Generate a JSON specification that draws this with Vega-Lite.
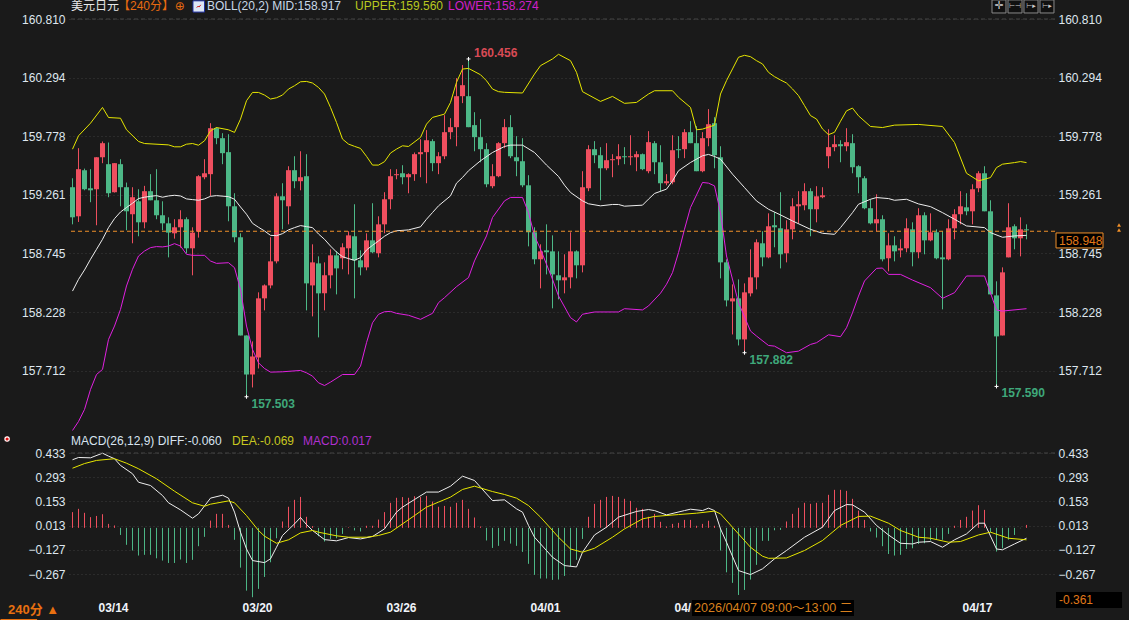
{
  "$schema": "https://vega.github.io/schema/vega-lite/v6.json",
  "background": "#1a1a1a",
  "padding": {"left": -1, "top": -1, "right": 8, "bottom": 1},
  "spacing": 0,
  "data": {"values": [{}]},
  "config": {
    "view": {"stroke": null},
    "font": "Liberation Sans",
    "text": {"font": "Liberation Sans, Noto Sans CJK SC", "fontSize": 12, "align": "left", "baseline": "middle"},
    "axis": {"title": null, "domain": false, "ticks": false, "labelFontSize": 12, "labelColor": "#dfe7ef", "gridColor": "#3c3c3c", "gridDash": [1, 3], "gridWidth": 1}
  },
  "datasets": {
    "candles": [
      {"i":0,"o":159.328,"h":159.407,"l":159.001,"c":159.063},
      {"i":1,"o":159.072,"h":159.672,"l":159.022,"c":159.487},
      {"i":2,"o":159.478,"h":159.492,"l":159.301,"c":159.310},
      {"i":3,"o":159.319,"h":159.487,"l":159.196,"c":159.301},
      {"i":4,"o":159.310,"h":159.592,"l":158.993,"c":159.592},
      {"i":5,"o":159.592,"h":159.731,"l":159.540,"c":159.716},
      {"i":6,"o":159.531,"h":159.722,"l":159.240,"c":159.275},
      {"i":7,"o":159.284,"h":159.540,"l":159.281,"c":159.540},
      {"i":8,"o":159.531,"h":159.575,"l":159.160,"c":159.328},
      {"i":9,"o":159.328,"h":159.369,"l":158.949,"c":159.116},
      {"i":10,"o":159.090,"h":159.328,"l":158.834,"c":159.240},
      {"i":11,"o":159.204,"h":159.310,"l":158.896,"c":159.019},
      {"i":12,"o":159.019,"h":159.340,"l":158.966,"c":159.293},
      {"i":13,"o":159.293,"h":159.443,"l":159.213,"c":159.213},
      {"i":14,"o":159.213,"h":159.487,"l":159.046,"c":159.081},
      {"i":15,"o":159.081,"h":159.204,"l":158.949,"c":159.010},
      {"i":16,"o":159.010,"h":159.063,"l":158.710,"c":158.928},
      {"i":17,"o":158.922,"h":159.046,"l":158.875,"c":158.975},
      {"i":18,"o":158.975,"h":159.125,"l":158.796,"c":159.046},
      {"i":19,"o":159.046,"h":159.063,"l":158.746,"c":158.790},
      {"i":20,"o":158.790,"h":158.975,"l":158.552,"c":158.928},
      {"i":21,"o":158.937,"h":159.434,"l":158.884,"c":159.425},
      {"i":22,"o":159.416,"h":159.575,"l":159.398,"c":159.451},
      {"i":23,"o":159.443,"h":159.892,"l":159.251,"c":159.848},
      {"i":24,"o":159.848,"h":159.857,"l":159.707,"c":159.760},
      {"i":25,"o":159.760,"h":159.804,"l":159.531,"c":159.628},
      {"i":26,"o":159.637,"h":159.795,"l":159.028,"c":159.160},
      {"i":27,"o":159.160,"h":159.275,"l":158.843,"c":158.887},
      {"i":28,"o":158.887,"h":158.922,"l":158.022,"c":158.022},
      {"i":29,"o":158.022,"h":158.022,"l":157.482,"c":157.678},
      {"i":30,"o":157.678,"h":157.970,"l":157.564,"c":157.837},
      {"i":31,"o":157.828,"h":158.402,"l":157.731,"c":158.349},
      {"i":32,"o":158.349,"h":158.472,"l":158.243,"c":158.463},
      {"i":33,"o":158.463,"h":158.887,"l":158.437,"c":158.675},
      {"i":34,"o":158.675,"h":159.275,"l":158.657,"c":159.248},
      {"i":35,"o":159.248,"h":159.363,"l":158.957,"c":159.213},
      {"i":36,"o":159.160,"h":159.513,"l":159.001,"c":159.478},
      {"i":37,"o":159.478,"h":159.601,"l":159.319,"c":159.381},
      {"i":38,"o":159.381,"h":159.645,"l":159.301,"c":159.416},
      {"i":39,"o":159.425,"h":159.619,"l":158.243,"c":158.481},
      {"i":40,"o":158.463,"h":158.825,"l":158.190,"c":158.666},
      {"i":41,"o":158.657,"h":158.719,"l":158.005,"c":158.393},
      {"i":42,"o":158.393,"h":158.666,"l":158.243,"c":158.552},
      {"i":43,"o":158.552,"h":158.781,"l":158.437,"c":158.728},
      {"i":44,"o":158.728,"h":158.763,"l":158.384,"c":158.613},
      {"i":45,"o":158.702,"h":158.834,"l":158.605,"c":158.799},
      {"i":46,"o":158.790,"h":158.940,"l":158.560,"c":158.904},
      {"i":47,"o":158.896,"h":159.178,"l":158.349,"c":158.684},
      {"i":48,"o":158.684,"h":158.772,"l":158.552,"c":158.622},
      {"i":49,"o":158.622,"h":158.922,"l":158.596,"c":158.860},
      {"i":50,"o":158.860,"h":159.187,"l":158.746,"c":158.755},
      {"i":51,"o":158.746,"h":159.072,"l":158.710,"c":159.001},
      {"i":52,"o":159.001,"h":159.284,"l":158.922,"c":159.222},
      {"i":53,"o":159.222,"h":159.487,"l":159.134,"c":159.425},
      {"i":54,"o":159.434,"h":159.487,"l":159.398,"c":159.443},
      {"i":55,"o":159.451,"h":159.522,"l":159.354,"c":159.416},
      {"i":56,"o":159.416,"h":159.451,"l":159.275,"c":159.443},
      {"i":57,"o":159.443,"h":159.634,"l":159.384,"c":159.619},
      {"i":58,"o":159.619,"h":159.751,"l":159.416,"c":159.637},
      {"i":59,"o":159.637,"h":159.831,"l":159.363,"c":159.742},
      {"i":60,"o":159.734,"h":159.751,"l":159.469,"c":159.540},
      {"i":61,"o":159.540,"h":159.637,"l":159.443,"c":159.601},
      {"i":62,"o":159.601,"h":159.963,"l":159.575,"c":159.813},
      {"i":63,"o":159.813,"h":159.936,"l":159.751,"c":159.857},
      {"i":64,"o":159.857,"h":160.289,"l":159.689,"c":160.130},
      {"i":65,"o":160.130,"h":160.404,"l":160.069,"c":160.227},
      {"i":66,"o":160.130,"h":160.458,"l":159.857,"c":159.857},
      {"i":67,"o":159.875,"h":159.989,"l":159.645,"c":159.769},
      {"i":68,"o":159.769,"h":159.928,"l":159.548,"c":159.663},
      {"i":69,"o":159.663,"h":159.716,"l":159.328,"c":159.354},
      {"i":70,"o":159.337,"h":159.531,"l":159.319,"c":159.425},
      {"i":71,"o":159.425,"h":159.725,"l":159.416,"c":159.716},
      {"i":72,"o":159.716,"h":159.928,"l":159.672,"c":159.857},
      {"i":73,"o":159.857,"h":159.963,"l":159.584,"c":159.601},
      {"i":74,"o":159.592,"h":159.778,"l":159.425,"c":159.557},
      {"i":75,"o":159.557,"h":159.760,"l":159.328,"c":159.345},
      {"i":76,"o":159.345,"h":159.434,"l":158.807,"c":158.931},
      {"i":77,"o":158.931,"h":158.975,"l":158.649,"c":158.693},
      {"i":78,"o":158.693,"h":158.825,"l":158.437,"c":158.763},
      {"i":79,"o":158.772,"h":159.001,"l":158.560,"c":158.755},
      {"i":80,"o":158.763,"h":158.904,"l":158.261,"c":158.560},
      {"i":81,"o":158.552,"h":158.763,"l":158.340,"c":158.508},
      {"i":82,"o":158.508,"h":158.737,"l":158.393,"c":158.534},
      {"i":83,"o":158.534,"h":158.931,"l":158.437,"c":158.763},
      {"i":84,"o":158.763,"h":158.772,"l":158.525,"c":158.640},
      {"i":85,"o":158.640,"h":159.469,"l":158.578,"c":159.328},
      {"i":86,"o":159.319,"h":159.698,"l":159.293,"c":159.663},
      {"i":87,"o":159.663,"h":159.734,"l":159.540,"c":159.610},
      {"i":88,"o":159.610,"h":159.681,"l":159.213,"c":159.495},
      {"i":89,"o":159.495,"h":159.716,"l":159.478,"c":159.566},
      {"i":90,"o":159.566,"h":159.619,"l":159.416,"c":159.575},
      {"i":91,"o":159.575,"h":159.707,"l":159.522,"c":159.601},
      {"i":92,"o":159.601,"h":159.681,"l":159.531,"c":159.592},
      {"i":93,"o":159.592,"h":159.786,"l":159.522,"c":159.601},
      {"i":94,"o":159.592,"h":159.645,"l":159.469,"c":159.619},
      {"i":95,"o":159.619,"h":159.625,"l":159.478,"c":159.487},
      {"i":96,"o":159.469,"h":159.822,"l":159.451,"c":159.725},
      {"i":97,"o":159.716,"h":159.734,"l":159.443,"c":159.548},
      {"i":98,"o":159.548,"h":159.698,"l":159.293,"c":159.363},
      {"i":99,"o":159.363,"h":159.443,"l":159.345,"c":159.381},
      {"i":100,"o":159.372,"h":159.786,"l":159.354,"c":159.654},
      {"i":101,"o":159.663,"h":159.778,"l":159.584,"c":159.654},
      {"i":102,"o":159.663,"h":159.839,"l":159.584,"c":159.813},
      {"i":103,"o":159.813,"h":159.910,"l":159.716,"c":159.716},
      {"i":104,"o":159.716,"h":159.866,"l":159.469,"c":159.469},
      {"i":105,"o":159.469,"h":159.813,"l":159.460,"c":159.760},
      {"i":106,"o":159.760,"h":160.016,"l":159.689,"c":159.883},
      {"i":107,"o":159.892,"h":159.945,"l":159.495,"c":159.610},
      {"i":108,"o":159.592,"h":159.689,"l":158.525,"c":158.666},
      {"i":109,"o":158.666,"h":158.693,"l":158.278,"c":158.331},
      {"i":110,"o":158.322,"h":158.472,"l":158.031,"c":158.349},
      {"i":111,"o":158.349,"h":158.516,"l":157.934,"c":157.987},
      {"i":112,"o":157.987,"h":158.481,"l":157.870,"c":158.402},
      {"i":113,"o":158.393,"h":158.781,"l":158.366,"c":158.534},
      {"i":114,"o":158.534,"h":158.869,"l":158.428,"c":158.843},
      {"i":115,"o":158.834,"h":158.940,"l":158.631,"c":158.710},
      {"i":116,"o":158.710,"h":159.098,"l":158.702,"c":158.984},
      {"i":117,"o":158.993,"h":159.107,"l":158.799,"c":158.975},
      {"i":118,"o":158.966,"h":159.284,"l":158.613,"c":158.737},
      {"i":119,"o":158.746,"h":159.037,"l":158.666,"c":158.957},
      {"i":120,"o":158.957,"h":159.231,"l":158.869,"c":159.160},
      {"i":121,"o":159.160,"h":159.293,"l":159.010,"c":159.178},
      {"i":122,"o":159.169,"h":159.363,"l":159.125,"c":159.293},
      {"i":123,"o":159.293,"h":159.319,"l":158.896,"c":159.134},
      {"i":124,"o":159.134,"h":159.337,"l":159.019,"c":159.248},
      {"i":125,"o":159.240,"h":159.328,"l":159.231,"c":159.257},
      {"i":126,"o":159.601,"h":159.839,"l":159.495,"c":159.681},
      {"i":127,"o":159.681,"h":159.786,"l":159.645,"c":159.707},
      {"i":128,"o":159.707,"h":159.742,"l":159.548,"c":159.689},
      {"i":129,"o":159.689,"h":159.848,"l":159.645,"c":159.725},
      {"i":130,"o":159.716,"h":159.795,"l":159.451,"c":159.504},
      {"i":131,"o":159.513,"h":159.522,"l":159.275,"c":159.416},
      {"i":132,"o":159.407,"h":159.425,"l":159.134,"c":159.143},
      {"i":133,"o":159.143,"h":159.222,"l":159.001,"c":159.010},
      {"i":134,"o":159.010,"h":159.266,"l":158.940,"c":159.046},
      {"i":135,"o":159.046,"h":159.081,"l":158.675,"c":158.693},
      {"i":136,"o":158.702,"h":158.922,"l":158.587,"c":158.816},
      {"i":137,"o":158.816,"h":158.896,"l":158.675,"c":158.763},
      {"i":138,"o":158.772,"h":158.869,"l":158.710,"c":158.790},
      {"i":139,"o":158.790,"h":159.054,"l":158.755,"c":158.966},
      {"i":140,"o":158.957,"h":159.019,"l":158.631,"c":158.755},
      {"i":141,"o":158.755,"h":159.143,"l":158.702,"c":159.081},
      {"i":142,"o":159.081,"h":159.107,"l":158.737,"c":158.860},
      {"i":143,"o":158.860,"h":159.098,"l":158.852,"c":158.931},
      {"i":144,"o":158.931,"h":158.957,"l":158.693,"c":158.702},
      {"i":145,"o":158.710,"h":158.940,"l":158.252,"c":158.693},
      {"i":146,"o":158.693,"h":159.046,"l":158.684,"c":158.966},
      {"i":147,"o":158.966,"h":159.134,"l":158.869,"c":159.090},
      {"i":148,"o":159.090,"h":159.293,"l":159.001,"c":159.160},
      {"i":149,"o":159.151,"h":159.275,"l":159.081,"c":159.116},
      {"i":150,"o":159.116,"h":159.354,"l":159.001,"c":159.310},
      {"i":151,"o":159.319,"h":159.469,"l":159.284,"c":159.451},
      {"i":152,"o":159.451,"h":159.513,"l":159.116,"c":159.116},
      {"i":153,"o":159.116,"h":159.213,"l":158.384,"c":158.384},
      {"i":154,"o":158.375,"h":158.499,"l":157.573,"c":158.014},
      {"i":155,"o":158.022,"h":158.622,"l":158.022,"c":158.578},
      {"i":156,"o":158.710,"h":159.187,"l":158.710,"c":158.975},
      {"i":157,"o":158.984,"h":159.001,"l":158.781,"c":158.878},
      {"i":158,"o":158.878,"h":159.063,"l":158.719,"c":158.957},
      {"i":159,"o":158.957,"h":159.001,"l":158.869,"c":158.948}
    ],
    "upper": [
      {"i":0,"v":159.663},{"i":1,"v":159.781},{"i":3,"v":159.892},{"i":5,"v":160.031},{"i":6,"v":159.942},{"i":8,"v":159.936},{"i":9,"v":159.834},{"i":11,"v":159.731},{"i":12,"v":159.713},{"i":16,"v":159.701},{"i":17,"v":159.684},{"i":18,"v":159.684},{"i":19,"v":159.707},{"i":20,"v":159.713},{"i":21,"v":159.698},{"i":22,"v":159.737},{"i":23,"v":159.825},{"i":24,"v":159.854},{"i":26,"v":159.834},{"i":27,"v":159.811},{"i":28,"v":159.928},{"i":29,"v":160.090},{"i":30,"v":160.163},{"i":31,"v":160.163},{"i":32,"v":160.140},{"i":33,"v":160.105},{"i":34,"v":160.116},{"i":35,"v":160.140},{"i":36,"v":160.193},{"i":37,"v":160.222},{"i":38,"v":160.257},{"i":39,"v":160.260},{"i":40,"v":160.246},{"i":41,"v":160.207},{"i":42,"v":160.149},{"i":43,"v":160.031},{"i":44,"v":159.899},{"i":45,"v":159.752},{"i":46,"v":159.708},{"i":47,"v":159.688},{"i":48,"v":159.670},{"i":49,"v":159.600},{"i":50,"v":159.523},{"i":51,"v":159.523},{"i":52,"v":159.553},{"i":53,"v":159.629},{"i":54,"v":159.664},{"i":55,"v":159.693},{"i":56,"v":159.687},{"i":58,"v":159.767},{"i":59,"v":159.884},{"i":60,"v":159.943},{"i":62,"v":159.972},{"i":63,"v":160.075},{"i":64,"v":160.252},{"i":65,"v":160.369},{"i":66,"v":160.375},{"i":68,"v":160.319},{"i":69,"v":160.266},{"i":70,"v":160.193},{"i":71,"v":160.170},{"i":72,"v":160.164},{"i":75,"v":160.158},{"i":77,"v":160.325},{"i":78,"v":160.399},{"i":80,"v":160.458},{"i":81,"v":160.499},{"i":83,"v":160.443},{"i":84,"v":160.340},{"i":85,"v":160.170},{"i":88,"v":160.084},{"i":90,"v":160.128},{"i":92,"v":160.067},{"i":94,"v":160.075},{"i":96,"v":160.149},{"i":97,"v":160.178},{"i":100,"v":160.178},{"i":101,"v":160.120},{"i":103,"v":160.031},{"i":104,"v":159.834},{"i":105,"v":159.840},{"i":107,"v":159.875},{"i":108,"v":160.149},{"i":109,"v":160.267},{"i":110,"v":160.370},{"i":111,"v":160.473},{"i":112,"v":160.490},{"i":113,"v":160.478},{"i":114,"v":160.443},{"i":115,"v":160.414},{"i":116,"v":160.340},{"i":117,"v":160.302},{"i":118,"v":160.273},{"i":119,"v":160.246},{"i":120,"v":160.194},{"i":121,"v":160.135},{"i":122,"v":160.047},{"i":123,"v":159.959},{"i":124,"v":159.929},{"i":125,"v":159.841},{"i":126,"v":159.791},{"i":127,"v":159.812},{"i":128,"v":159.909},{"i":129,"v":160.001},{"i":130,"v":160.025},{"i":131,"v":159.957},{"i":133,"v":159.863},{"i":135,"v":159.854},{"i":137,"v":159.875},{"i":141,"v":159.881},{"i":145,"v":159.863},{"i":147,"v":159.722},{"i":149,"v":159.451},{"i":151,"v":159.384},{"i":153,"v":159.413},{"i":154,"v":159.501},{"i":155,"v":159.531},{"i":157,"v":159.545},{"i":158,"v":159.554},{"i":159,"v":159.545}
    ],
    "mid": [
      {"i":0,"v":158.413},{"i":1,"v":158.516},{"i":2,"v":158.599},{"i":3,"v":158.693},{"i":4,"v":158.781},{"i":5,"v":158.869},{"i":6,"v":158.972},{"i":7,"v":159.051},{"i":8,"v":159.110},{"i":9,"v":159.149},{"i":10,"v":159.187},{"i":11,"v":159.228},{"i":12,"v":159.240},{"i":13,"v":159.248},{"i":14,"v":159.254},{"i":15,"v":159.240},{"i":16,"v":159.251},{"i":17,"v":159.257},{"i":18,"v":159.251},{"i":19,"v":159.225},{"i":20,"v":159.219},{"i":21,"v":159.213},{"i":22,"v":159.225},{"i":23,"v":159.248},{"i":24,"v":159.254},{"i":26,"v":159.245},{"i":27,"v":159.222},{"i":28,"v":159.154},{"i":29,"v":159.090},{"i":30,"v":159.010},{"i":31,"v":158.975},{"i":32,"v":158.943},{"i":33,"v":158.904},{"i":34,"v":158.901},{"i":35,"v":158.919},{"i":36,"v":158.952},{"i":37,"v":158.972},{"i":38,"v":158.990},{"i":39,"v":158.981},{"i":40,"v":158.972},{"i":41,"v":158.916},{"i":42,"v":158.869},{"i":43,"v":158.810},{"i":44,"v":158.757},{"i":45,"v":158.716},{"i":46,"v":158.699},{"i":47,"v":158.684},{"i":48,"v":158.708},{"i":49,"v":158.775},{"i":50,"v":158.816},{"i":51,"v":158.855},{"i":52,"v":158.896},{"i":53,"v":158.928},{"i":54,"v":158.944},{"i":56,"v":158.952},{"i":58,"v":158.979},{"i":59,"v":159.046},{"i":60,"v":159.105},{"i":61,"v":159.164},{"i":63,"v":159.252},{"i":64,"v":159.364},{"i":65,"v":159.414},{"i":66,"v":159.473},{"i":68,"v":159.561},{"i":70,"v":159.634},{"i":72,"v":159.687},{"i":73,"v":159.699},{"i":75,"v":159.699},{"i":77,"v":159.634},{"i":79,"v":159.523},{"i":81,"v":159.423},{"i":82,"v":159.346},{"i":83,"v":159.282},{"i":85,"v":159.208},{"i":86,"v":159.182},{"i":88,"v":159.164},{"i":90,"v":159.176},{"i":91,"v":159.176},{"i":92,"v":159.161},{"i":95,"v":159.170},{"i":96,"v":159.223},{"i":97,"v":159.273},{"i":99,"v":159.311},{"i":100,"v":159.384},{"i":101,"v":159.473},{"i":103,"v":159.546},{"i":105,"v":159.605},{"i":106,"v":159.617},{"i":107,"v":159.599},{"i":108,"v":159.575},{"i":110,"v":159.443},{"i":112,"v":159.325},{"i":114,"v":159.207},{"i":116,"v":159.134},{"i":118,"v":159.084},{"i":120,"v":159.031},{"i":123,"v":158.957},{"i":125,"v":158.922},{"i":127,"v":158.913},{"i":128,"v":158.972},{"i":130,"v":159.104},{"i":131,"v":159.178},{"i":133,"v":159.222},{"i":134,"v":159.237},{"i":136,"v":159.228},{"i":137,"v":159.213},{"i":139,"v":159.222},{"i":141,"v":159.181},{"i":143,"v":159.157},{"i":145,"v":159.104},{"i":147,"v":159.046},{"i":149,"v":158.987},{"i":152,"v":158.972},{"i":153,"v":158.928},{"i":155,"v":158.887},{"i":157,"v":158.899},{"i":159,"v":158.904}
    ],
    "lower": [
      {"i":0,"v":157.185},{"i":1,"v":157.264},{"i":2,"v":157.370},{"i":3,"v":157.546},{"i":4,"v":157.678},{"i":5,"v":157.723},{"i":6,"v":157.987},{"i":7,"v":158.105},{"i":8,"v":158.252},{"i":9,"v":158.458},{"i":10,"v":158.605},{"i":11,"v":158.722},{"i":12,"v":158.766},{"i":13,"v":158.796},{"i":14,"v":158.805},{"i":15,"v":158.802},{"i":16,"v":158.810},{"i":17,"v":158.831},{"i":18,"v":158.810},{"i":19,"v":158.737},{"i":20,"v":158.728},{"i":22,"v":158.728},{"i":23,"v":158.678},{"i":24,"v":158.657},{"i":26,"v":158.663},{"i":27,"v":158.619},{"i":28,"v":158.428},{"i":29,"v":158.105},{"i":30,"v":157.899},{"i":31,"v":157.781},{"i":32,"v":157.731},{"i":33,"v":157.699},{"i":35,"v":157.702},{"i":38,"v":157.714},{"i":39,"v":157.693},{"i":40,"v":157.664},{"i":41,"v":157.605},{"i":42,"v":157.581},{"i":43,"v":157.611},{"i":45,"v":157.678},{"i":47,"v":157.678},{"i":48,"v":157.752},{"i":49,"v":157.958},{"i":50,"v":158.134},{"i":51,"v":158.208},{"i":52,"v":158.231},{"i":53,"v":158.234},{"i":54,"v":158.217},{"i":56,"v":158.200},{"i":58,"v":158.164},{"i":60,"v":158.217},{"i":61,"v":158.311},{"i":62,"v":158.355},{"i":64,"v":158.452},{"i":66,"v":158.532},{"i":67,"v":158.679},{"i":69,"v":158.899},{"i":70,"v":159.061},{"i":72,"v":159.208},{"i":73,"v":159.238},{"i":75,"v":159.238},{"i":76,"v":159.105},{"i":77,"v":158.899},{"i":78,"v":158.782},{"i":80,"v":158.517},{"i":81,"v":158.370},{"i":83,"v":158.179},{"i":84,"v":158.141},{"i":85,"v":158.209},{"i":87,"v":158.229},{"i":91,"v":158.229},{"i":92,"v":158.258},{"i":95,"v":158.247},{"i":96,"v":158.282},{"i":98,"v":158.394},{"i":99,"v":158.473},{"i":100,"v":158.576},{"i":101,"v":158.752},{"i":102,"v":158.958},{"i":103,"v":159.149},{"i":105,"v":159.370},{"i":106,"v":159.364},{"i":107,"v":159.340},{"i":108,"v":159.104},{"i":109,"v":158.722},{"i":111,"v":158.311},{"i":113,"v":158.061},{"i":114,"v":158.017},{"i":116,"v":157.934},{"i":117,"v":157.928},{"i":119,"v":157.870},{"i":121,"v":157.884},{"i":123,"v":157.943},{"i":124,"v":157.958},{"i":126,"v":158.028},{"i":128,"v":158.011},{"i":129,"v":158.090},{"i":130,"v":158.222},{"i":131,"v":158.369},{"i":132,"v":158.502},{"i":134,"v":158.613},{"i":135,"v":158.616},{"i":136,"v":158.560},{"i":138,"v":158.560},{"i":140,"v":158.510},{"i":143,"v":158.443},{"i":145,"v":158.349},{"i":147,"v":158.399},{"i":149,"v":158.546},{"i":152,"v":158.546},{"i":154,"v":158.246},{"i":155,"v":158.237},{"i":159,"v":158.258}
    ],
    "extremes": [
      {"i":66,"p":160.458,"label":"160.456"},
      {"i":29,"p":157.482,"label":"157.503"},
      {"i":112,"p":157.870,"label":"157.882"},
      {"i":154,"p":157.573,"label":"157.590"}
    ],
    "dates": [
      {"i":4,"label":"03/14"},
      {"i":28,"label":"03/20"},
      {"i":52,"label":"03/26"},
      {"i":76,"label":"04/01"},
      {"i":100,"label":"04/"},
      {"i":148,"label":"04/17"}
    ],
    "hist": [
      {"i":0,"v":0.091},{"i":1,"v":0.110},{"i":2,"v":0.087},{"i":3,"v":0.062},{"i":4,"v":0.069},{"i":5,"v":0.079},{"i":6,"v":0.023},{"i":7,"v":0.014},{"i":8,"v":-0.041},{"i":9,"v":-0.098},{"i":10,"v":-0.131},{"i":11,"v":-0.160},{"i":12,"v":-0.156},{"i":13,"v":-0.156},{"i":14,"v":-0.176},{"i":15,"v":-0.189},{"i":16,"v":-0.203},{"i":17,"v":-0.203},{"i":18,"v":-0.183},{"i":19,"v":-0.203},{"i":20,"v":-0.185},{"i":21,"v":-0.106},{"i":22,"v":-0.052},{"i":23,"v":0.042},{"i":24,"v":0.081},{"i":25,"v":0.081},{"i":26,"v":0.017},{"i":27,"v":-0.069},{"i":28,"v":-0.230},{"i":29,"v":-0.363},{"i":30,"v":-0.401},{"i":31,"v":-0.353},{"i":32,"v":-0.284},{"i":33,"v":-0.199},{"i":34,"v":-0.060},{"i":35,"v":0.037},{"i":36,"v":0.122},{"i":37,"v":0.162},{"i":38,"v":0.179},{"i":39,"v":0.064},{"i":40,"v":0.010},{"i":41,"v":-0.048},{"i":42,"v":-0.079},{"i":43,"v":-0.064},{"i":44,"v":-0.060},{"i":45,"v":-0.035},{"i":46,"v":0.003},{"i":47,"v":-0.015},{"i":48,"v":-0.021},{"i":49,"v":0.012},{"i":50,"v":0.012},{"i":51,"v":0.048},{"i":52,"v":0.091},{"i":53,"v":0.145},{"i":54,"v":0.174},{"i":55,"v":0.178},{"i":56,"v":0.174},{"i":57,"v":0.183},{"i":58,"v":0.178},{"i":59,"v":0.185},{"i":60,"v":0.152},{"i":61,"v":0.122},{"i":62,"v":0.127},{"i":63,"v":0.122},{"i":64,"v":0.145},{"i":65,"v":0.162},{"i":66,"v":0.110},{"i":67,"v":0.060},{"i":68,"v":0.008},{"i":69,"v":-0.073},{"i":70,"v":-0.116},{"i":71,"v":-0.104},{"i":72,"v":-0.075},{"i":73,"v":-0.091},{"i":74,"v":-0.104},{"i":75,"v":-0.139},{"i":76,"v":-0.208},{"i":77,"v":-0.272},{"i":78,"v":-0.293},{"i":79,"v":-0.293},{"i":80,"v":-0.301},{"i":81,"v":-0.299},{"i":82,"v":-0.278},{"i":83,"v":-0.222},{"i":84,"v":-0.185},{"i":85,"v":-0.064},{"i":86,"v":0.064},{"i":87,"v":0.139},{"i":88,"v":0.162},{"i":89,"v":0.179},{"i":90,"v":0.185},{"i":91,"v":0.179},{"i":92,"v":0.168},{"i":93,"v":0.156},{"i":94,"v":0.116},{"i":95,"v":0.110},{"i":96,"v":0.064},{"i":97,"v":0.081},{"i":98,"v":0.035},{"i":99,"v":0.008},{"i":100,"v":0.023},{"i":101,"v":0.029},{"i":102,"v":0.046},{"i":103,"v":0.046},{"i":104,"v":0.012},{"i":105,"v":0.023},{"i":106,"v":0.041},{"i":107,"v":0.012},{"i":108,"v":-0.131},{"i":109,"v":-0.257},{"i":110,"v":-0.318},{"i":111,"v":-0.388},{"i":112,"v":-0.359},{"i":113,"v":-0.299},{"i":114,"v":-0.214},{"i":115,"v":-0.075},{"i":116,"v":-0.075},{"i":117,"v":-0.014},{"i":118,"v":-0.012},{"i":119,"v":0.037},{"i":120,"v":0.081},{"i":121,"v":0.116},{"i":122,"v":0.145},{"i":123,"v":0.139},{"i":124,"v":0.145},{"i":125,"v":0.145},{"i":126,"v":0.191},{"i":127,"v":0.220},{"i":128,"v":0.220},{"i":129,"v":0.214},{"i":130,"v":0.168},{"i":131,"v":0.100},{"i":132,"v":0.046},{"i":133,"v":-0.021},{"i":134,"v":-0.056},{"i":135,"v":-0.106},{"i":136,"v":-0.151},{"i":137,"v":-0.160},{"i":138,"v":-0.156},{"i":139,"v":-0.122},{"i":140,"v":-0.118},{"i":141,"v":-0.093},{"i":142,"v":-0.089},{"i":143,"v":-0.073},{"i":144,"v":-0.068},{"i":145,"v":-0.069},{"i":146,"v":-0.035},{"i":147,"v":0.012},{"i":148,"v":0.046},{"i":149,"v":0.064},{"i":150,"v":0.100},{"i":151,"v":0.131},{"i":152,"v":0.104},{"i":153,"v":-0.025},{"i":154,"v":-0.137},{"i":155,"v":-0.118},{"i":156,"v":-0.068},{"i":157,"v":-0.041},{"i":158,"v":-0.002},{"i":159,"v":0.017}
    ],
    "diff": [
      {"i":0,"v":0.394},{"i":1,"v":0.407},{"i":3,"v":0.405},{"i":5,"v":0.432},{"i":6,"v":0.415},{"i":7,"v":0.400},{"i":8,"v":0.361},{"i":10,"v":0.313},{"i":11,"v":0.264},{"i":13,"v":0.245},{"i":15,"v":0.187},{"i":16,"v":0.145},{"i":18,"v":0.104},{"i":20,"v":0.056},{"i":21,"v":0.081},{"i":23,"v":0.172},{"i":25,"v":0.189},{"i":26,"v":0.172},{"i":27,"v":0.091},{"i":28,"v":-0.025},{"i":29,"v":-0.122},{"i":30,"v":-0.189},{"i":32,"v":-0.201},{"i":33,"v":-0.179},{"i":34,"v":-0.112},{"i":35,"v":-0.044},{"i":37,"v":0.023},{"i":38,"v":0.060},{"i":39,"v":0.019},{"i":40,"v":-0.015},{"i":42,"v":-0.068},{"i":44,"v":-0.075},{"i":46,"v":-0.056},{"i":48,"v":-0.064},{"i":50,"v":-0.050},{"i":52,"v":-0.006},{"i":54,"v":0.091},{"i":55,"v":0.120},{"i":57,"v":0.164},{"i":59,"v":0.207},{"i":61,"v":0.207},{"i":63,"v":0.241},{"i":65,"v":0.299},{"i":67,"v":0.274},{"i":68,"v":0.235},{"i":70,"v":0.158},{"i":72,"v":0.162},{"i":74,"v":0.110},{"i":75,"v":0.091},{"i":76,"v":0.014},{"i":77,"v":-0.054},{"i":79,"v":-0.131},{"i":80,"v":-0.170},{"i":82,"v":-0.218},{"i":84,"v":-0.226},{"i":85,"v":-0.141},{"i":87,"v":-0.041},{"i":89,"v":0.004},{"i":91,"v":0.062},{"i":94,"v":0.095},{"i":96,"v":0.106},{"i":97,"v":0.100},{"i":99,"v":0.075},{"i":102,"v":0.100},{"i":103,"v":0.108},{"i":105,"v":0.100},{"i":106,"v":0.114},{"i":107,"v":0.100},{"i":108,"v":-0.006},{"i":109,"v":-0.083},{"i":111,"v":-0.247},{"i":113,"v":-0.270},{"i":115,"v":-0.237},{"i":117,"v":-0.179},{"i":119,"v":-0.131},{"i":122,"v":-0.054},{"i":125,"v":0.004},{"i":127,"v":0.100},{"i":129,"v":0.135},{"i":130,"v":0.133},{"i":132,"v":0.091},{"i":134,"v":0.014},{"i":136,"v":-0.041},{"i":138,"v":-0.089},{"i":140,"v":-0.093},{"i":141,"v":-0.083},{"i":143,"v":-0.079},{"i":145,"v":-0.112},{"i":147,"v":-0.069},{"i":149,"v":-0.035},{"i":151,"v":0.027},{"i":152,"v":0.027},{"i":154,"v":-0.122},{"i":155,"v":-0.127},{"i":157,"v":-0.093},{"i":159,"v":-0.060}
    ],
    "dea": [
      {"i":0,"v":0.345},{"i":2,"v":0.372},{"i":4,"v":0.390},{"i":7,"v":0.400},{"i":9,"v":0.374},{"i":11,"v":0.342},{"i":14,"v":0.284},{"i":17,"v":0.212},{"i":20,"v":0.145},{"i":22,"v":0.125},{"i":23,"v":0.137},{"i":26,"v":0.156},{"i":27,"v":0.145},{"i":29,"v":0.071},{"i":31,"v":-0.015},{"i":32,"v":-0.048},{"i":34,"v":-0.089},{"i":36,"v":-0.069},{"i":38,"v":-0.029},{"i":40,"v":-0.015},{"i":41,"v":-0.025},{"i":44,"v":-0.046},{"i":46,"v":-0.054},{"i":49,"v":-0.054},{"i":51,"v":-0.044},{"i":53,"v":-0.025},{"i":55,"v":0.023},{"i":57,"v":0.071},{"i":59,"v":0.120},{"i":61,"v":0.149},{"i":63,"v":0.178},{"i":65,"v":0.222},{"i":67,"v":0.241},{"i":70,"v":0.210},{"i":72,"v":0.193},{"i":74,"v":0.172},{"i":76,"v":0.129},{"i":78,"v":0.062},{"i":81,"v":-0.054},{"i":83,"v":-0.122},{"i":85,"v":-0.141},{"i":87,"v":-0.118},{"i":90,"v":-0.054},{"i":92,"v":-0.006},{"i":95,"v":0.052},{"i":97,"v":0.066},{"i":101,"v":0.077},{"i":104,"v":0.085},{"i":107,"v":0.097},{"i":108,"v":0.081},{"i":111,"v":-0.035},{"i":113,"v":-0.112},{"i":115,"v":-0.164},{"i":116,"v":-0.176},{"i":119,"v":-0.174},{"i":122,"v":-0.131},{"i":125,"v":-0.073},{"i":128,"v":0.014},{"i":131,"v":0.066},{"i":133,"v":0.068},{"i":136,"v":0.027},{"i":138,"v":-0.015},{"i":141,"v":-0.054},{"i":143,"v":-0.060},{"i":146,"v":-0.083},{"i":148,"v":-0.079},{"i":151,"v":-0.041},{"i":153,"v":-0.025},{"i":156,"v":-0.060},{"i":159,"v":-0.069}
    ]
  },
  "vconcat": [
    {
      "width": 986,
      "height": 410,
      "resolve": {"axis": {"y": "independent"}},
      "layer": [
        {
          "data": {"name": "candles"},
          "mark": {"type": "rule", "strokeWidth": 1},
          "encoding": {
            "x": {"field": "i", "type": "quantitative", "scale": {"domain": [-0.58333, 163.75], "nice": false, "zero": false, "padding": 0},
              "axis": {"values": [4,10,16,22,28,34,40,46,52,58,64,70,76,82,88,94,100,106,112,118,124,130,136,142,148,154], "grid": true, "labels": false}},
            "y": {"field": "l", "type": "quantitative", "scale": {"domain": [157.198, 160.81], "nice": false, "zero": false},
              "axis": {"orient": "left", "values": [160.81,160.294,159.778,159.261,158.745,158.228,157.712], "format": ".3f", "grid": true, "labelPadding": 4}},
            "y2": {"field": "h"},
            "color": {"condition": {"test": "datum.c >= datum.o", "value": "#ef4f5f"}, "value": "#4db887"}
          }
        },
        {
          "data": {"name": "candles"},
          "mark": {"type": "bar", "size": 5},
          "encoding": {
            "x": {"field": "i", "type": "quantitative", "axis": null},
            "y": {"field": "o", "type": "quantitative", "axis": null},
            "y2": {"field": "c"},
            "color": {"condition": {"test": "datum.c >= datum.o", "value": "#ef4f5f"}, "value": "#4db887"}
          }
        },
        {
          "data": {"name": "upper"},
          "mark": {"type": "line", "color": "#e6e600", "strokeWidth": 1},
          "encoding": {"x": {"field": "i", "type": "quantitative", "axis": null}, "y": {"field": "v", "type": "quantitative", "axis": null}}
        },
        {
          "data": {"name": "mid"},
          "mark": {"type": "line", "color": "#eeeeee", "strokeWidth": 1},
          "encoding": {"x": {"field": "i", "type": "quantitative", "axis": null}, "y": {"field": "v", "type": "quantitative", "axis": null}}
        },
        {
          "data": {"name": "lower"},
          "mark": {"type": "line", "color": "#e020e0", "strokeWidth": 1},
          "encoding": {"x": {"field": "i", "type": "quantitative", "axis": null}, "y": {"field": "v", "type": "quantitative", "axis": null}}
        },
        {
          "data": {"name": "extremes"},
          "mark": {"type": "point", "shape": "M-1,0H1M0,-1V1", "size": 16, "filled": false, "stroke": "#ffffff", "strokeWidth": 1, "opacity": 1},
          "encoding": {"x": {"field": "i", "type": "quantitative", "axis": null}, "y": {"field": "p", "type": "quantitative", "axis": null}}
        },
        {
          "data": {"name": "extremes"},
          "transform": [{"filter": "datum.p > 160"}],
          "mark": {"type": "text", "color": "#d84a55", "fontWeight": "bold", "dx": 5.5, "dy": -6},
          "encoding": {"x": {"field": "i", "type": "quantitative", "axis": null}, "y": {"field": "p", "type": "quantitative", "axis": null}, "text": {"field": "label"}}
        },
        {
          "data": {"name": "extremes"},
          "transform": [{"filter": "datum.p < 160"}],
          "mark": {"type": "text", "color": "#3fa87a", "fontWeight": "bold", "dx": 5, "dy": 7},
          "encoding": {"x": {"field": "i", "type": "quantitative", "axis": null}, "y": {"field": "p", "type": "quantitative", "axis": null}, "text": {"field": "label"}}
        },
        {
          "mark": {"type": "rule", "color": "#444444", "strokeDash": [4, 3]},
          "encoding": {"y": {"datum": 160.81, "axis": {"orient": "right", "values": [160.81,160.294,159.778,159.261,158.745,158.228,157.712], "format": ".3f", "grid": false, "labelPadding": 3}}}
        },
        {
          "mark": {"type": "rule", "color": "#f0902a", "strokeDash": [4, 3]},
          "encoding": {"y": {"datum": 158.94, "axis": null}}
        },
        {
          "mark": {"type": "text", "text": "美元日元", "color": "#e8e8e8"},
          "encoding": {"x": {"datum": -0.25, "axis": null}, "y": {"datum": 160.9245, "axis": null}}
        },
        {
          "mark": {"type": "text", "text": "【240分】", "color": "#e86a10"},
          "encoding": {"x": {"datum": 7.58, "axis": null}, "y": {"datum": 160.9245, "axis": null}}
        },
        {
          "mark": {"type": "text", "text": "⊕", "color": "#e86a10", "align": "center", "font": "DejaVu Sans"},
          "encoding": {"x": {"datum": 17.9, "axis": null}, "y": {"datum": 160.9245, "axis": null}}
        },
        {
          "mark": {"type": "rect", "fill": "#dde6f5", "stroke": "#2030a0"},
          "encoding": {"x": {"datum": 20.08, "axis": null}, "x2": {"datum": 22}, "y": {"datum": 160.97, "axis": null}, "y2": {"datum": 160.871}}
        },
        {
          "mark": {"type": "point", "shape": "M-1,0.6L-0.3,-0.2L0.2,0.3L1,-0.8", "size": 16, "filled": false, "stroke": "#d02020", "strokeWidth": 1, "opacity": 1},
          "encoding": {"x": {"datum": 21.04, "axis": null}, "y": {"datum": 160.9205, "axis": null}}
        },
        {
          "mark": {"type": "text", "text": "BOLL(20,2) MID:158.917", "color": "#c8d8e8"},
          "encoding": {"x": {"datum": 22.4, "axis": null}, "y": {"datum": 160.9245, "axis": null}}
        },
        {
          "mark": {"type": "text", "text": "UPPER:159.560", "color": "#b8c820"},
          "encoding": {"x": {"datum": 47.08, "axis": null}, "y": {"datum": 160.9245, "axis": null}}
        },
        {
          "mark": {"type": "text", "text": "LOWER:158.274", "color": "#d020c8"},
          "encoding": {"x": {"datum": 62.58, "axis": null}, "y": {"datum": 160.9245, "axis": null}}
        },
        {
          "mark": {"type": "rect", "fill": "#111111", "stroke": "#888888"},
          "encoding": {"x": {"datum": 153.25, "axis": null}, "x2": {"datum": 155.58}, "y": {"datum": 160.978, "axis": null}, "y2": {"datum": 160.863}}
        },
        {
          "mark": {"type": "rect", "fill": "#111111", "stroke": "#888888"},
          "encoding": {"x": {"datum": 155.92, "axis": null}, "x2": {"datum": 158.25}, "y": {"datum": 160.978, "axis": null}, "y2": {"datum": 160.863}}
        },
        {
          "mark": {"type": "rect", "fill": "#111111", "stroke": "#888888"},
          "encoding": {"x": {"datum": 158.58, "axis": null}, "x2": {"datum": 160.92}, "y": {"datum": 160.978, "axis": null}, "y2": {"datum": 160.863}}
        },
        {
          "mark": {"type": "rect", "fill": "#111111", "stroke": "#888888"},
          "encoding": {"x": {"datum": 161.25, "axis": null}, "x2": {"datum": 163.58}, "y": {"datum": 160.978, "axis": null}, "y2": {"datum": 160.863}}
        },
        {
          "mark": {"type": "text", "text": "✛", "color": "#cccccc", "align": "center", "font": "DejaVu Sans", "fontSize": 11},
          "encoding": {"x": {"datum": 154.42, "axis": null}, "y": {"datum": 160.9245, "axis": null}}
        },
        {
          "mark": {"type": "text", "text": "⊢⊣", "color": "#cccccc", "align": "center", "font": "DejaVu Sans", "fontSize": 7},
          "encoding": {"x": {"datum": 157.08, "axis": null}, "y": {"datum": 160.9245, "axis": null}}
        },
        {
          "mark": {"type": "text", "text": "⊢▸", "color": "#cccccc", "align": "center", "font": "DejaVu Sans", "fontSize": 7},
          "encoding": {"x": {"datum": 159.75, "axis": null}, "y": {"datum": 160.9245, "axis": null}}
        },
        {
          "mark": {"type": "text", "text": "⊢▸", "color": "#cccccc", "align": "center", "font": "DejaVu Sans", "fontSize": 7},
          "encoding": {"x": {"datum": 162.42, "axis": null}, "y": {"datum": 160.9245, "axis": null}}
        },
        {
          "mark": {"type": "rect", "fill": "#000000", "stroke": "#f0902a"},
          "encoding": {"x": {"datum": 163.92, "axis": null}, "x2": {"datum": 171.75}, "y": {"datum": 158.925, "axis": null}, "y2": {"datum": 158.793}}
        },
        {
          "mark": {"type": "text", "text": "158.948", "color": "#e07818"},
          "encoding": {"x": {"datum": 164.42, "axis": null}, "y": {"datum": 158.858, "axis": null}}
        },
        {
          "mark": {"type": "point", "shape": "triangle-up", "size": 16, "filled": true, "color": "#f0902a", "opacity": 1},
          "encoding": {"x": {"datum": 174.42, "axis": null}, "y": {"datum": 158.995, "axis": null}}
        },
        {
          "mark": {"type": "point", "shape": "triangle-up", "size": 16, "filled": true, "color": "#f0902a", "opacity": 1},
          "encoding": {"x": {"datum": 174.42, "axis": null}, "y": {"datum": 158.951, "axis": null}}
        }
      ]
    },
    {
      "width": 986,
      "height": 145,
      "resolve": {"axis": {"y": "independent"}},
      "layer": [
        {
          "data": {"name": "hist"},
          "transform": [{"filter": "datum.v >= 0"}],
          "mark": {"type": "rule", "strokeWidth": 1, "stroke": "#ef4f5f"},
          "encoding": {
            "x": {"field": "i", "type": "quantitative", "scale": {"domain": [-0.58333, 163.75], "nice": false, "zero": false, "padding": 0},
              "axis": {"values": [4,10,16,22,28,34,40,46,52,58,64,70,76,82,88,94,100,106,112,118,124,130,136,142,148,154], "grid": true, "labels": false}},
            "y": {"field": "v", "type": "quantitative", "scale": {"domain": [-0.4056, 0.433], "nice": false, "zero": false},
              "axis": {"orient": "left", "values": [0.433,0.293,0.153,0.013,-0.127,-0.267], "format": ".3f", "grid": true, "labelPadding": 4}},
            "y2": {"datum": 0}
          }
        },
        {
          "data": {"name": "hist"},
          "transform": [{"filter": "datum.v < 0"}],
          "mark": {"type": "rule", "strokeWidth": 1, "stroke": "#4db887"},
          "encoding": {
            "x": {"field": "i", "type": "quantitative", "axis": null},
            "y": {"field": "v", "type": "quantitative", "axis": null},
            "y2": {"datum": 0}
          }
        },
        {
          "data": {"name": "diff"},
          "mark": {"type": "line", "color": "#eeeeee", "strokeWidth": 1},
          "encoding": {"x": {"field": "i", "type": "quantitative", "axis": null}, "y": {"field": "v", "type": "quantitative", "axis": null}}
        },
        {
          "data": {"name": "dea"},
          "mark": {"type": "line", "color": "#e6e600", "strokeWidth": 1},
          "encoding": {"x": {"field": "i", "type": "quantitative", "axis": null}, "y": {"field": "v", "type": "quantitative", "axis": null}}
        },
        {
          "mark": {"type": "rule", "color": "#444444", "strokeDash": [4, 3]},
          "encoding": {"y": {"datum": 0.433, "axis": {"orient": "right", "values": [0.433,0.293,0.153,0.013,-0.127,-0.267], "format": ".3f", "grid": false, "labelPadding": 3}}}
        },
        {
          "mark": {"type": "text", "text": "MACD(26,12,9) DIFF:-0.060", "color": "#d8e4f0"},
          "encoding": {"x": {"datum": -0.25, "axis": null}, "y": {"datum": 0.5024, "axis": null}}
        },
        {
          "mark": {"type": "text", "text": "DEA:-0.069", "color": "#c8c820"},
          "encoding": {"x": {"datum": 26.58, "axis": null}, "y": {"datum": 0.5024, "axis": null}}
        },
        {
          "mark": {"type": "text", "text": "MACD:0.017", "color": "#b030d0"},
          "encoding": {"x": {"datum": 38.42, "axis": null}, "y": {"datum": 0.5024, "axis": null}}
        },
        {
          "mark": {"type": "point", "shape": "M-1,0L-0.65,0M0.65,0L1,0M0,-1L0,-0.65M0,0.65L0,1M-0.7,-0.7L-0.45,-0.45M0.7,0.7L0.45,0.45M-0.7,0.7L-0.45,0.45M0.7,-0.7L0.45,-0.45", "size": 36, "filled": false, "stroke": "#e01010", "strokeWidth": 1, "opacity": 1},
          "encoding": {"x": {"datum": -10.9, "axis": null}, "y": {"datum": 0.514, "axis": null}}
        },
        {
          "mark": {"type": "point", "shape": "circle", "size": 30, "filled": true, "color": "#ffffff", "opacity": 1},
          "encoding": {"x": {"datum": -10.9, "axis": null}, "y": {"datum": 0.514, "axis": null}}
        },
        {
          "mark": {"type": "point", "shape": "circle", "size": 10, "filled": true, "color": "#e01010", "opacity": 1},
          "encoding": {"x": {"datum": -10.9, "axis": null}, "y": {"datum": 0.514, "axis": null}}
        },
        {
          "data": {"name": "dates"},
          "mark": {"type": "text", "color": "#f0f4fa", "fontWeight": "bold", "dx": 2},
          "encoding": {"x": {"field": "i", "type": "quantitative", "axis": null}, "y": {"datum": -0.4635, "axis": null}, "text": {"field": "label"}}
        },
        {
          "mark": {"type": "text", "text": "240分 ▲", "color": "#e87010", "fontWeight": "bold", "fontSize": 13},
          "encoding": {"x": {"datum": -10.75, "axis": null}, "y": {"datum": -0.475, "axis": null}}
        },
        {
          "mark": {"type": "rule", "color": "#e87010"},
          "encoding": {"x": {"datum": -12, "axis": null}, "x2": {"datum": -5.9}, "y": {"datum": -0.53, "axis": null}}
        },
        {
          "mark": {"type": "rect", "fill": "#000000"},
          "encoding": {"x": {"datum": 103.25, "axis": null}, "x2": {"datum": 130.25}, "y": {"datum": -0.417, "axis": null}, "y2": {"datum": -0.51}}
        },
        {
          "mark": {"type": "text", "text": "2026/04/07 09:00～13:00 二", "color": "#d8801e", "fontSize": 12.6},
          "encoding": {"x": {"datum": 103.58, "axis": null}, "y": {"datum": -0.4635, "axis": null}}
        },
        {
          "mark": {"type": "rect", "fill": "#000000"},
          "encoding": {"x": {"datum": 163.92, "axis": null}, "x2": {"datum": 174.92}, "y": {"datum": -0.371, "axis": null}, "y2": {"datum": -0.4635}}
        },
        {
          "mark": {"type": "text", "text": "-0.361", "color": "#e07818"},
          "encoding": {"x": {"datum": 164.42, "axis": null}, "y": {"datum": -0.417, "axis": null}}
        }
      ]
    }
  ]
}
